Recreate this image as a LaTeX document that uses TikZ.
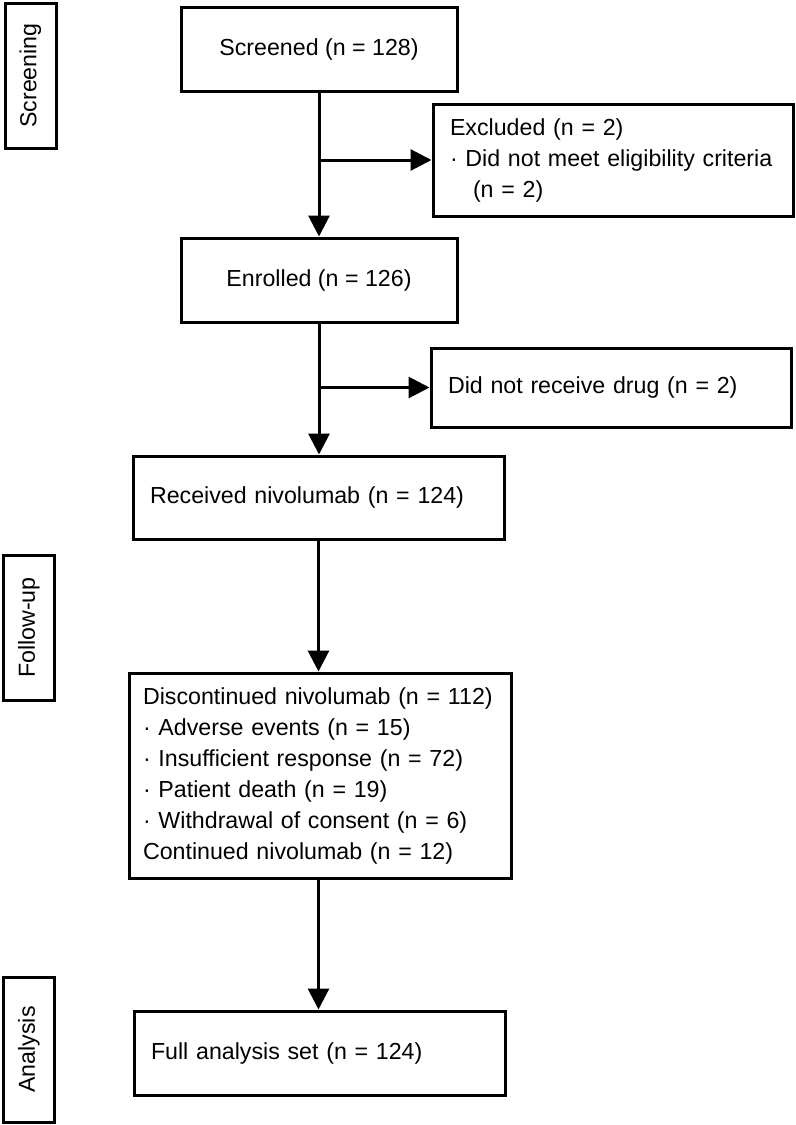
\documentclass[tikz,border=0pt]{standalone}
\usepackage{fontspec}
\setmainfont{Liberation Sans}
\usepackage{tikz}
\usetikzlibrary{arrows.meta,positioning,calc}

\begin{document}
\begin{tikzpicture}[
    x=0.5pt, y=-0.5pt,
    every node/.style={font=\fontsize{11.6}{15.5}\selectfont},
    box/.style={draw, line width=1.5pt, inner xsep=8.5pt, inner ysep=0pt},
    centerbox/.style={box, minimum width=138pt, minimum height=42pt, align=center},
    leftbox/.style={box, minimum width=#1, text width=#1-17pt, align=left},
    stage/.style={draw, line width=1.5pt, rotate=90, minimum width=72.5pt, minimum height=25.5pt, inner sep=0pt},
    flow/.style={line width=1.5pt, -{Triangle[length=10.5pt,width=10.5pt]}}
]
\useasboundingbox (0,0) rectangle (796,1125);

% Stage labels on the left
\node[stage] (screening) at (30.5,75.5) {Screening};
\node[stage] (followup) at (29,627.5) {Follow-up};
\node[stage] (analysis) at (29,1049.5) {Analysis};

% Main column
\node[centerbox] (screened) at (319,49.5) {Screened (n = 128)};
\node[centerbox] (enrolled) at (319,280) {Enrolled (n = 126)};
\node[leftbox=185.5pt, minimum height=41.5pt] (received) at (318.5,497.5) {Received nivolumab (n = 124)};
\node[box, inner xsep=7pt, text width=177pt, align=left, minimum height=102.5pt] (discont) at (320,775.5) {Discontinued nivolumab (n = 112)\\
    · Adverse events (n = 15)\\
    · Insufficient response (n = 72)\\
    · Patient death (n = 19)\\
    · Withdrawal of consent (n = 6)\\
    Continued nivolumab (n = 12)};
\node[leftbox=185.5pt, minimum height=42pt] (fullset) at (319.5,1053) {Full analysis set (n = 124)};

% Side boxes
\node[leftbox=180pt, minimum height=56pt] (excluded) at (613,160) {Excluded (n = 2)\\
    · Did not meet eligibility criteria\\
    \hspace*{11.5pt}(n = 2)};
\node[leftbox=180pt, minimum height=39.5pt] (nodrug) at (611,387.5) {Did not receive drug (n = 2)};

% Connectors
\coordinate (split1) at (screened.south |- excluded.west);
\coordinate (split2) at (enrolled.south |- nodrug.west);
\draw[flow] (screened.south) -- (screened.south |- enrolled.north);
\draw[flow] (split1) -- (excluded.west);
\draw[flow] (enrolled.south) -- (enrolled.south |- received.north);
\draw[flow] (split2) -- (nodrug.west);
\draw[flow] (received.south) -- (received.south |- discont.north);
\draw[flow] (discont.south -| received.south) -- (received.south |- fullset.north);
\end{tikzpicture}
\end{document}
